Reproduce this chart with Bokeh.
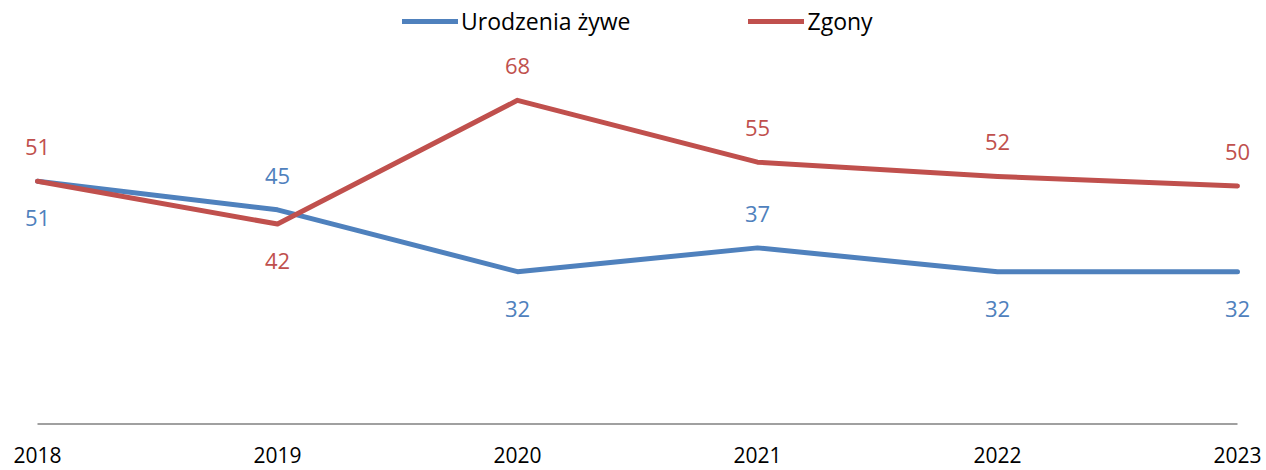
from bokeh.plotting import figure
from bokeh.models import ColumnDataSource, Legend, LegendItem, Range1d
from bokeh.core.properties import value
from bokeh.embed import file_html
from bokeh.resources import INLINE

years = [2018, 2019, 2020, 2021, 2022, 2023]
year_labels = ["2018", "2019", "2020", "2021", "2022", "2023"]
births = [51, 45, 32, 37, 32, 32]
deaths = [51, 42, 68, 55, 52, 50]
births_label_side = [-1, 1, -1, 1, -1, -1]
deaths_label_side = [1, -1, 1, 1, 1, 1]

BLUE = "#4F81BD"
RED = "#C0504D"
FONT = "Open Sans"
FS = "22px"

W, H = 1266, 470
PX_PER_YEAR = 240.0
PX_PER_UNIT = 4.76
LEFT_PAD = 37      # px from frame left edge to first category
BOTTOM_PAD = 46.5  # px from frame bottom to value 0

x0 = years[0] - LEFT_PAD / PX_PER_YEAR
y0 = -BOTTOM_PAD / PX_PER_UNIT
p = figure(width=W, height=H, output_backend="svg", toolbar_location=None,
           x_range=Range1d(x0, x0 + W / PX_PER_YEAR),
           y_range=Range1d(y0, y0 + H / PX_PER_UNIT),
           min_border=0)
p.outline_line_color = None
p.grid.visible = False
p.axis.visible = False
p.background_fill_color = "white"
p.border_fill_color = "white"

# category axis line and labels
p.segment(x0=years[0], y0=0, x1=years[-1], y1=0, line_color="#A0A0A0", line_width=2)
p.text(x=years, y=[0] * len(years), text=year_labels, y_offset=31,
       text_align="center", text_baseline="middle", text_color="#000000",
       text_font=value(FONT), text_font_size="21px")

r1 = p.line(years, births, line_color=BLUE, line_width=5, line_join="round", line_cap="round")
r2 = p.line(years, deaths, line_color=RED, line_width=5, line_join="round", line_cap="round")

def add_labels(vals, sides, color):
    src = ColumnDataSource(dict(x=years, y=vals, t=[str(v) for v in vals],
                                off=[(-34 if s > 0 else 37) for s in sides]))
    p.text(x="x", y="y", text="t", y_offset="off", source=src, text_align="center",
           text_baseline="middle", text_color=color, text_font=value(FONT),
           text_font_size=FS)

add_labels(births, births_label_side, BLUE)
add_labels(deaths, deaths_label_side, RED)

legend = Legend(items=[LegendItem(label="Urodzenia żywe", renderers=[r1]),
                       LegendItem(label="Zgony", renderers=[r2])],
                orientation="horizontal", location=(402, 433))
legend.glyph_width = 56
legend.glyph_height = 22
legend.label_height = 22
legend.label_standoff = 3
legend.spacing = 118
legend.padding = 0
legend.margin = 0
legend.border_line_alpha = 0
legend.background_fill_alpha = 0
legend.label_text_font = FONT
legend.label_text_font_size = "23px"
legend.label_text_color = "#000000"
p.add_layout(legend, "center")

open("out.html", "w").write(file_html(p, INLINE))
